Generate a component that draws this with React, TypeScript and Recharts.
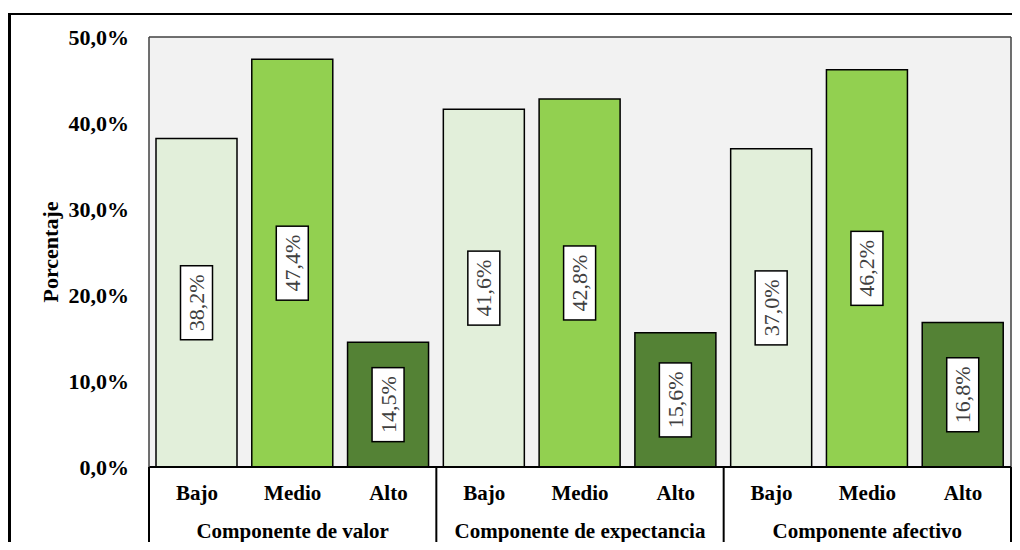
import { BarChart, Bar, XAxis, YAxis, CartesianGrid, Cell, LabelList } from 'recharts';

const categories = ['Bajo', 'Medio', 'Alto', 'Bajo', 'Medio', 'Alto', 'Bajo', 'Medio', 'Alto'];
const groups = ['Componente de valor', 'Componente de expectancia', 'Componente afectivo'];
const values = [38.2, 47.4, 14.5, 41.6, 42.8, 15.6, 37.0, 46.2, 16.8];
const levelColors = ['#e2efda', '#92d050', '#548235'];
const yTicks = [0, 10, 20, 30, 40, 50];

const data = values.map((v, i) => ({
  key: `${groups[Math.floor(i / 3)]}-${categories[i]}`,
  cat: categories[i],
  group: groups[Math.floor(i / 3)],
  value: v,
}));

const FONT = '"Liberation Serif", "Times New Roman", serif';
const fmt = (v: number) => `${v.toFixed(1).replace('.', ',')}%`;

const CatTick = (props: any) => {
  const { x, y, payload, index } = props;
  const half = payload?.offset ?? 862 / 18;
  const item = data[index];
  return (
    <g>
      <text x={x} y={y + 33} textAnchor="middle" fontFamily={FONT} fontSize={21} fontWeight="bold" fill="#000">
        {item.cat}
      </text>
      {index % 3 === 1 && (
        <text x={x} y={y + 71} textAnchor="middle" fontFamily={FONT} fontSize={21} fontWeight="bold" fill="#000">
          {item.group}
        </text>
      )}
      {index % 3 === 0 && <line x1={x - half} x2={x - half} y1={y} y2={y + 83} stroke="#000" strokeWidth={2} />}
      {index === data.length - 1 && (
        <line x1={x + half} x2={x + half} y1={y} y2={y + 83} stroke="#000" strokeWidth={2} />
      )}
    </g>
  );
};

const ValueLabel = (props: any) => {
  const { x, y, width, height, value } = props;
  const cx = x + width / 2;
  const cy = y + height / 2;
  return (
    <g>
      <rect x={cx - 16} y={cy - 37} width={32} height={74} fill="#fff" stroke="#000" strokeWidth={1.5} />
      <text
        x={cx}
        y={cy}
        transform={`rotate(-90, ${cx}, ${cy})`}
        textAnchor="middle"
        dominantBaseline="central"
        fontFamily={FONT}
        fontSize={22}
        fill="#404040"
      >
        {fmt(value)}
      </text>
    </g>
  );
};

const YTitle = (props: any) => {
  const { viewBox } = props;
  const cx = viewBox.x + 42;
  const cy = viewBox.y + viewBox.height / 2;
  return (
    <text
      x={cx}
      y={cy}
      transform={`rotate(-90, ${cx}, ${cy})`}
      textAnchor="middle"
      dominantBaseline="central"
      fontFamily={FONT}
      fontSize={22}
      fontWeight="bold"
      fill="#000"
    >
      Porcentaje
    </text>
  );
};

export default function App() {
  return (
    <div style={{ position: 'relative', width: 1012, height: 534 }}>
      <div
        style={{
          position: 'absolute',
          top: 5,
          left: 0,
          width: 1012,
          height: 537,
          borderTop: '2px solid #000',
          borderLeft: '3px solid #000',
          boxSizing: 'border-box',
        }}
      />
      <div style={{ position: 'absolute', top: 0, left: 0 }}>
        <BarChart width={1012} height={542} data={data} margin={{ top: 29, right: 9, left: 0, bottom: 0 }}>
          <CartesianGrid
            fill="#f2f2f2"
            stroke="#404040"
            strokeWidth={1.5}
            horizontalCoordinatesGenerator={({ offset }: any) => [offset.top]}
            verticalCoordinatesGenerator={({ offset }: any) => [offset.left + offset.width]}
          />
          <XAxis
            dataKey="key"
            height={83}
            interval={0}
            tickLine={false}
            tickSize={0}
            tickMargin={0}
            axisLine={{ stroke: '#000', strokeWidth: 2 }}
            tick={<CatTick />}
          />
          <YAxis
            width={141}
            domain={[0, 50]}
            ticks={yTicks}
            tickFormatter={fmt}
            tickLine={false}
            tickSize={8}
            tickMargin={12}
            axisLine={{ stroke: '#404040', strokeWidth: 1.5 }}
            tick={{ fontFamily: FONT, fontSize: 22, fontWeight: 'bold', fill: '#000' }}
            label={<YTitle />}
          />
          <Bar dataKey="value" barSize={81} stroke="#000" strokeWidth={1.5} isAnimationActive={false}>
            {data.map((d, i) => (
              <Cell key={d.key} fill={levelColors[i % 3]} />
            ))}
            <LabelList dataKey="value" content={<ValueLabel />} />
          </Bar>
        </BarChart>
      </div>
    </div>
  );
}
